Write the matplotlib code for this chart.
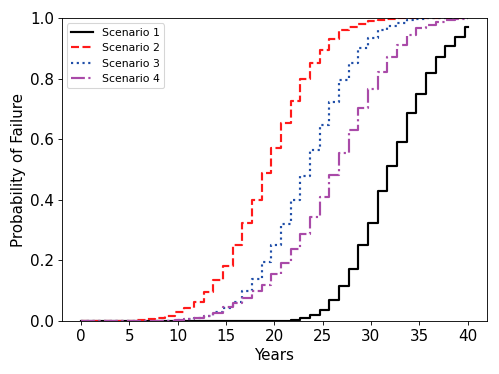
import numpy as np
import matplotlib
matplotlib.use('Agg')
import matplotlib.pyplot as plt

# step edges (years) where the curves jump, plus start and end
edges = [0] + [k + 0.7 for k in range(40)] + [40]

# value held on each interval: [0,0.7), [0.7,1.7), ..., [39.7,40]
s1 = [0]*21 + [0.001, 0.003, 0.009, 0.02, 0.037, 0.068, 0.115, 0.17, 0.25,
               0.325, 0.428, 0.51, 0.591, 0.685, 0.748, 0.817, 0.87, 0.907,
               0.938, 0.969]
s2 = [0]*6 + [0.002, 0.005, 0.01, 0.018, 0.029, 0.042, 0.064, 0.095, 0.136,
              0.183, 0.25, 0.323, 0.40, 0.487, 0.571, 0.652, 0.726, 0.80,
              0.85, 0.894, 0.93, 0.96, 0.971, 0.98, 0.99, 0.995, 0.998] + [1.0]*8
s3 = [0]*10 + [0.002, 0.005, 0.01, 0.018, 0.029, 0.042, 0.064, 0.098, 0.139,
               0.194, 0.252, 0.321, 0.398, 0.479, 0.564, 0.646, 0.723, 0.795,
               0.85, 0.90, 0.935, 0.96, 0.975, 0.985, 0.993, 0.997] + [1.0]*5
s4 = [0]*10 + [0.002, 0.005, 0.01, 0.018, 0.028, 0.045, 0.06, 0.077, 0.098,
               0.12, 0.155, 0.19, 0.239, 0.288, 0.343, 0.41, 0.481, 0.553,
               0.63, 0.703, 0.765, 0.822, 0.872, 0.912, 0.944, 0.966, 0.978,
               0.986, 0.992, 0.996, 0.998]

labels = ['Scenario 1', 'Scenario 2', 'Scenario 3', 'Scenario 4']

fig = plt.figure(figsize=(6.41, 4.795), dpi=78)
ax = fig.add_axes([61.7/500, 1 - 321/374, 425.3/500, 303/374])

def stp(vals, **kw):
    y = vals + [vals[-1]]
    ax.step(edges, y, where='post', **kw)

stp(s1, color='black', lw=2, ls='-', label=labels[0])
stp(s2, color='#ff1a1a', lw=2, ls=(0, (3.7, 1.6)), label=labels[1])
stp(s3, color='#1f4ea8', lw=2, ls=(0, (1, 1.65)), label=labels[2])
stp(s4, color='#a94aa8', lw=2, ls=(0, (6.4, 1.6, 1, 1.6)), label=labels[3])

ax.set_xlim(-2, 42)
ax.set_ylim(0, 1)
ax.set_xticks(range(0, 41, 5))
ax.set_yticks([0, 0.2, 0.4, 0.6, 0.8, 1.0])
ax.tick_params(labelsize=14)
ax.set_xlabel('Years', fontsize=14)
ax.set_ylabel('Probability of Failure', fontsize=14)
ax.legend(loc='upper left', fontsize=10)

fig.savefig('out.png', dpi=78)
